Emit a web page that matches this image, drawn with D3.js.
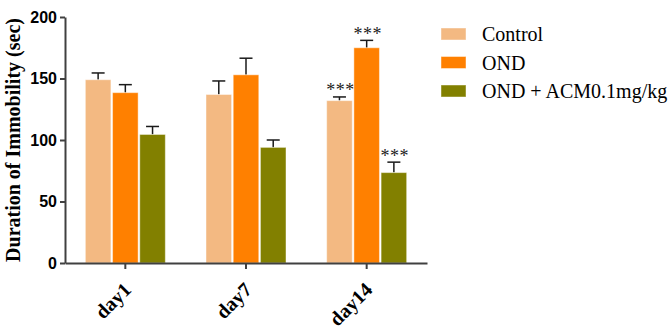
<!DOCTYPE html>
<html>
<head>
<meta charset="utf-8">
<script src="https://cdn.jsdelivr.net/npm/d3@7"></script>
<style>
  body { margin: 0; background: #fff; }
  svg { display: block; }
</style>
</head>
<body>
<svg id="chart" width="671" height="330"></svg>
<script>
// categories and groups
var days = ["day1", "day7", "day14"];
var groups = ["Control", "OND", "OND + ACM0.1mg/kg"];
var colors = ["#F3B982", "#FF8000", "#828000"];

// means and error (upper) per group, in day order
var controlMean = [149, 137, 132];
var controlErr  = [5.5, 11, 3];
var ondMean     = [138.5, 153, 175];
var ondErr      = [6.5, 13.5, 6];
var acmMean     = [104.5, 94, 73.5];
var acmErr      = [6.5, 6, 8.5];

// significance marks
var stars = [["", "", "***"], ["", "", "***"], ["", "", "***"]];

var yTicks = [0, 50, 100, 150, 200];

var means = [controlMean, ondMean, acmMean];
var errs = [controlErr, ondErr, acmErr];

var serif = "'Liberation Serif', 'Times New Roman', serif";
var sans = "'Liberation Sans', Arial, sans-serif";

var svg = d3.select("#chart");
var margin = {top: 17, left: 65, bottom: 67, right: 244};
var width = 671 - margin.left - margin.right;
var height = 330 - margin.top - margin.bottom;

var g = svg.append("g")
  .attr("transform", "translate(" + margin.left + "," + margin.top + ")");

var x0 = d3.scaleBand().domain(days).range([0, width]).padding(0);
var x1 = d3.scaleBand().domain(groups).range([-40, 40]).paddingInner(0.06);
var y = d3.scaleLinear().domain([0, 200]).range([height, 0]);

// build rows for the bars
var rows = [];
days.forEach(function(d, i) {
  groups.forEach(function(gr, j) {
    rows.push({day: d, group: gr, mean: means[j][i], err: errs[j][i], star: stars[j][i], color: colors[j]});
  });
});

var bars = g.selectAll(".bar").data(rows).enter().append("g")
  .attr("transform", function(r) { return "translate(" + (x0(r.day) + x0.bandwidth() / 2) + ",0)"; });

// error bars first so the bar covers the lower half
bars.append("line")
  .attr("x1", function(r) { return x1(r.group) + x1.bandwidth() / 2; })
  .attr("x2", function(r) { return x1(r.group) + x1.bandwidth() / 2; })
  .attr("y1", function(r) { return y(r.mean); })
  .attr("y2", function(r) { return y(r.mean + r.err); })
  .attr("stroke", "#1a1a1a").attr("stroke-width", 1.5);
bars.append("line")
  .attr("x1", function(r) { return x1(r.group) + x1.bandwidth() / 2 - 6.5; })
  .attr("x2", function(r) { return x1(r.group) + x1.bandwidth() / 2 + 6.5; })
  .attr("y1", function(r) { return y(r.mean + r.err); })
  .attr("y2", function(r) { return y(r.mean + r.err); })
  .attr("stroke", "#1a1a1a").attr("stroke-width", 1.5);

bars.append("rect")
  .attr("x", function(r) { return x1(r.group); })
  .attr("width", x1.bandwidth())
  .attr("y", function(r) { return y(r.mean); })
  .attr("height", function(r) { return y(0) - y(r.mean); })
  .attr("fill", function(r) { return r.color; })
  .attr("stroke", "rgba(255,255,255,0.45)")
  .attr("stroke-width", 1);

bars.append("text")
  .attr("x", function(r) { return x1(r.group) + x1.bandwidth() / 2 + 1; })
  .attr("y", function(r) { return y(r.mean + r.err) - 0.5; })
  .attr("text-anchor", "middle")
  .style("font-family", serif)
  .style("font-size", "18px")
  .attr("letter-spacing", 0.5)
  .attr("fill", "#222")
  .text(function(r) { return r.star; });

// axes
var yAxis = g.append("g")
  .call(d3.axisLeft(y).tickValues(yTicks).tickSize(5).tickSizeOuter(0));
yAxis.select(".domain").attr("stroke", "#404040").attr("stroke-width", 2);
yAxis.selectAll(".tick line").attr("stroke", "#404040").attr("stroke-width", 2);
yAxis.selectAll("text")
  .style("font-family", sans)
  .style("font-weight", "bold").style("font-size", "16px").attr("fill", "#000")
  .attr("x", -8);

var xAxis = g.append("g")
  .attr("transform", "translate(0," + height + ")")
  .call(d3.axisBottom(x0).tickSize(6).tickSizeOuter(0));
xAxis.select(".domain").attr("stroke", "#404040").attr("stroke-width", 2);
xAxis.selectAll(".tick line").attr("stroke", "#404040").attr("stroke-width", 2);
xAxis.selectAll("text")
  .style("font-family", serif)
  .style("font-weight", "bold").style("font-size", "20px").attr("fill", "#000")
  .attr("text-anchor", "end")
  .attr("dy", 0)
  .attr("transform", "translate(7,28) rotate(-45)")
  .attr("y", 0).attr("x", 0);

// y title
g.append("text")
  .attr("transform", "translate(-45," + (height / 2) + ") rotate(-90)")
  .attr("text-anchor", "middle")
  .style("font-family", serif)
  .style("font-weight", "bold").style("font-size", "20px")
  .text("Duration of Immobility (sec)");

// legend
var legend = svg.append("g").attr("transform", "translate(441,28)");
var items = legend.selectAll("g").data(groups).enter().append("g")
  .attr("transform", function(d, i) { return "translate(0," + (i * 28.5) + ")"; });
items.append("rect")
  .attr("width", 25).attr("height", 12)
  .attr("fill", function(d, i) { return colors[i]; })
  .attr("stroke", "rgba(255,255,255,0.45)");
items.append("text")
  .attr("x", 41).attr("y", 13)
  .style("font-family", serif)
  .style("font-size", "20px")
  .text(function(d) { return d; });
</script>
</body>
</html>
